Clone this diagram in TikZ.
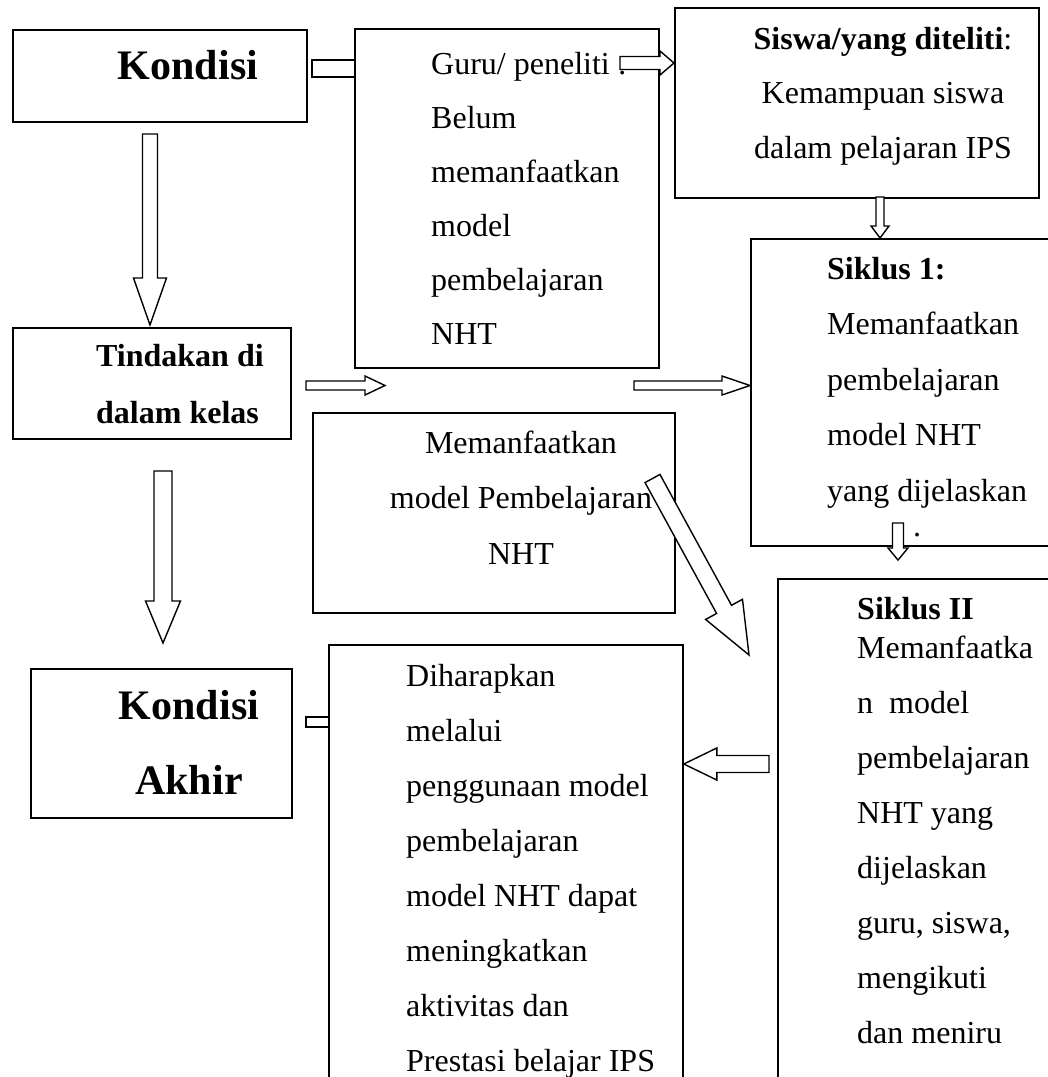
\documentclass[tikz,border=0pt]{standalone}
\usepackage{fontspec}
\setmainfont{Liberation Serif}
\usetikzlibrary{calc}
\tikzset{
  box/.style={draw, line width=1.8pt, rectangle, anchor=north west, inner sep=0pt},
  txt/.style={inner sep=0pt, anchor=base west, font=\fontsize{32}{54}\selectfont},
  bigtxt/.style={inner sep=0pt, anchor=base, font=\fontsize{42}{75}\selectfont\bfseries},
  blk/.style={draw, fill=white, line width=1.4pt, line join=miter},
}
\newcommand\blkarrow[5]{%
  \coordinate (bah) at ($(#2)!#5!(#1)$);
  \draw[blk] ($(#1)!#3!90:(#2)$) -- ($(bah)!#3!-90:(#1)$) -- ($(bah)!#4!-90:(#1)$) -- (#2)
    -- ($(bah)!#4!90:(#1)$) -- ($(bah)!#3!90:(#1)$) -- ($(#1)!#3!-90:(#2)$) -- cycle;
}
\newcommand\lns[1]{\begin{tabular}[t]{@{}l@{}}#1\end{tabular}}
\newcommand\clns[1]{\begin{tabular}[t]{@{}c@{}}#1\end{tabular}}
\begin{document}
\begin{tikzpicture}[x=1pt,y=-1pt]
\useasboundingbox (0,0) rectangle (1048,1077);
\clip (0,0) rectangle (1048,1077);
% boxes
\node[box, minimum width=294pt, minimum height=92pt] (kondisi) at (12,29) {};
\node[box, minimum width=304pt, minimum height=339pt] (guru) at (354,28) {};
\node[box, minimum width=364pt, minimum height=190pt] (siswa) at (674,7) {};
\node[box, minimum width=320pt, minimum height=307pt] (siklus1) at (750,238) {};
\node[box, minimum width=300pt, minimum height=530pt] (siklus2) at (777,578) {};
\node[box, minimum width=278pt, minimum height=111pt] (tindakan) at (12,327) {};
\node[box, minimum width=362pt, minimum height=200pt] (manfaat) at (312,412) {};
\node[box, minimum width=261pt, minimum height=149pt] (akhir) at (30,668) {};
\node[box, minimum width=354pt, minimum height=460pt] (harap) at (328,644) {};
% texts
\node[bigtxt] (tkondisi) at (188,79) {Kondisi};
\node[txt] (tguru) at (431,74) {\lns{Guru/ peneliti :\\Belum\\memanfaatkan\\model\\pembelajaran\\NHT}};
\node[txt, anchor=base, font=\fontsize{32}{54.5}\selectfont] (tsiswa) at (883,49)
  {\clns{\textbf{Siswa/yang diteliti}:\\Kemampuan siswa\\dalam pelajaran IPS}};
\node[txt, font=\fontsize{32}{55.5}\selectfont] (tsik1) at (827,279)
  {\lns{\textbf{Siklus 1:}\\Memanfaatkan\\pembelajaran\\model NHT\\yang dijelaskan}};
\node[txt] (tdot) at (913,536) {.};
\node[txt] (tsik2a) at (857,619) {\textbf{Siklus II}};
\node[txt, font=\fontsize{32}{55}\selectfont] (tsik2) at (857,658)
  {\lns{Memanfaatka\\n~~model\\pembelajaran\\NHT yang\\dijelaskan\\guru, siswa,\\mengikuti\\dan meniru}};
\node[txt, font=\fontsize{32}{57}\selectfont\bfseries] (ttindakan) at (96,366) {\lns{Tindakan di\\dalam kelas}};
\node[txt, anchor=base, font=\fontsize{32}{55.5}\selectfont] (tmanfaat) at (521,453)
  {\clns{Memanfaatkan\\model Pembelajaran\\NHT}};
\node[bigtxt] (takhir) at (189,719) {\begin{tabular}[t]{@{}c@{}}Kondisi\\Akhir\end{tabular}};
\node[txt, font=\fontsize{32}{55}\selectfont] (tharap) at (406,686)
  {\lns{Diharapkan\\melalui\\penggunaan model\\pembelajaran\\model NHT dapat\\meningkatkan\\aktivitas dan\\Prestasi belajar IPS}};
% connectors
\coordinate (s1a) at (312,60); \coordinate (s1b) at (312,77);
\draw[blk] (s1a -| guru.west) -- (s1a) -- (s1b) -- (s1b -| guru.west);
\coordinate (b1) at (620,63); \coordinate (b2) at (siswa.west |- b1);
\blkarrow{b1}{b2}{6.5pt}{12pt}{14pt}
\coordinate (c1) at (150,134); \coordinate (c2) at (150,325);
\blkarrow{c1}{c2}{7.5pt}{16.5pt}{47pt}
\coordinate (d1) at (880,197); \coordinate (d2) at (880,238);
\blkarrow{d1}{d2}{4pt}{9pt}{12pt}
\coordinate (e1) at (306,385.5); \coordinate (e2) at (385,385.5);
\blkarrow{e1}{e2}{4.5pt}{9.5pt}{20pt}
\coordinate (f1) at (634,385.5); \coordinate (f2) at (siklus1.west |- f1);
\blkarrow{f1}{f2}{4.5pt}{9.5pt}{28pt}
\coordinate (g1) at (652.5,478.5); \coordinate (g2) at (749,655);
\blkarrow{g1}{g2}{8.5pt}{21pt}{52pt}
\coordinate (h1) at (898,523); \coordinate (h2) at (898,560);
\blkarrow{h1}{h2}{5.5pt}{10pt}{12pt}
\coordinate (i1) at (769,764); \coordinate (i2) at (harap.east |- i1);
\blkarrow{i1}{i2}{8.5pt}{16pt}{33pt}
\coordinate (s2a) at (306,717); \coordinate (s2b) at (306,727);
\draw[blk] (s2a -| harap.west) -- (s2a) -- (s2b) -- (s2b -| harap.west);
\coordinate (k1) at (163,471); \coordinate (k2) at (163,643);
\blkarrow{k1}{k2}{9pt}{17.5pt}{42pt}
\end{tikzpicture}
\end{document}
